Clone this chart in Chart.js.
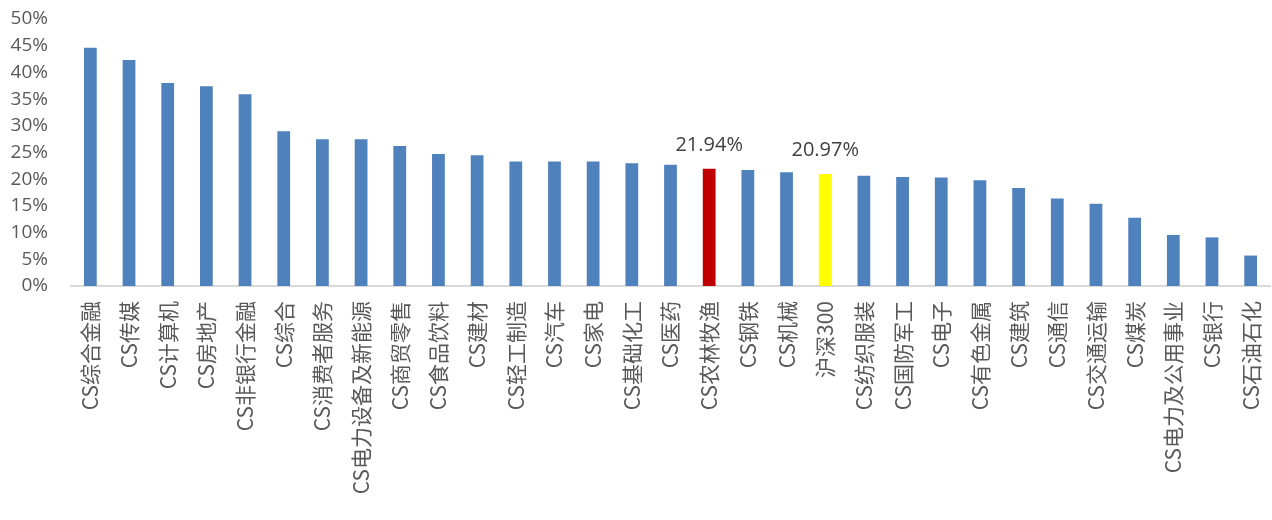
<!DOCTYPE html>
<html lang="zh-CN">
<head>
    <meta charset="UTF-8">
    <title>行业涨幅</title>
    <script src="https://cdn.jsdelivr.net/npm/chart.js"></script>
    <style>
        html, body {
            margin: 0;
            padding: 0;
            background: #ffffff;
        }
        #wrap {
            width: 1272px;
            height: 520px;
        }
    </style>
</head>
<body>
    <div id="wrap"><canvas id="barChart"></canvas></div>

    <script>
        const categories = ['CS综合金融', 'CS传媒', 'CS计算机', 'CS房地产', 'CS非银行金融', 'CS综合',
            'CS消费者服务', 'CS电力设备及新能源', 'CS商贸零售', 'CS食品饮料', 'CS建材', 'CS轻工制造',
            'CS汽车', 'CS家电', 'CS基础化工', 'CS医药', 'CS农林牧渔', 'CS钢铁', 'CS机械', '沪深300',
            'CS纺织服装', 'CS国防军工', 'CS电子', 'CS有色金属', 'CS建筑', 'CS通信', 'CS交通运输',
            'CS煤炭', 'CS电力及公用事业', 'CS银行', 'CS石油石化'];

        // 区间涨幅 (%)
        const values = [44.6, 42.3, 38.0, 37.4, 35.9, 29.0,
            27.5, 27.5, 26.2, 24.7, 24.5, 23.3,
            23.3, 23.3, 23.0, 22.7, 21.94, 21.7, 21.3, 20.97,
            20.66, 20.4, 20.3, 19.8, 18.35, 16.4, 15.4,
            12.8, 9.55, 9.1, 5.7];

        const yMax = 50;
        const yStep = 5;

        // highlighted bars, these also get a value label
        const highlight = { 'CS农林牧渔': '#C00000', '沪深300': '#FFFF00' };
        const baseColor = '#4F81BD';

        const valueLabels = {
            id: 'valueLabels',
            afterDatasetsDraw(chart) {
                const ctx = chart.ctx;
                const meta = chart.getDatasetMeta(0);
                ctx.save();
                ctx.font = '20px "Open Sans", "Noto Sans CJK SC", sans-serif';
                ctx.fillStyle = '#404040';
                ctx.textAlign = 'center';
                ctx.textBaseline = 'alphabetic';
                categories.forEach((c, i) => {
                    if (!highlight[c]) return;
                    const bar = meta.data[i];
                    ctx.fillText(values[i].toFixed(2) + '%', bar.x, bar.y - 18);
                });
                ctx.restore();
            }
        };

        new Chart(document.getElementById('barChart'), {
            type: 'bar',
            data: {
                labels: categories,
                datasets: [{
                    data: values,
                    backgroundColor: categories.map(c => highlight[c] || baseColor),
                    barPercentage: 0.33,
                    categoryPercentage: 1
                }]
            },
            options: {
                responsive: true,
                maintainAspectRatio: false,
                animation: false,
                layout: { padding: { top: 19, right: 2, left: 0, bottom: 0 } },
                plugins: {
                    legend: { display: false },
                    tooltip: { enabled: false }
                },
                scales: {
                    x: {
                        grid: { display: false, drawTicks: false },
                        border: { color: '#d9d9d9', width: 2 },
                        ticks: {
                            autoSkip: false,
                            minRotation: 90,
                            maxRotation: 90,
                            padding: 15,
                            color: '#595959',
                            font: { family: '"Noto Sans CJK SC", sans-serif', size: 21 }
                        },
                        afterFit: scale => {
                            scale.height = 234;
                            scale.paddingLeft = 0;
                            scale.paddingRight = 0;
                        }
                    },
                    y: {
                        min: 0,
                        max: yMax,
                        grid: { display: false, drawTicks: false },
                        border: { display: false },
                        ticks: {
                            stepSize: yStep,
                            autoSkip: false,
                            padding: 23,
                            color: '#595959',
                            font: { family: '"Open Sans", sans-serif', size: 19 },
                            callback: v => v + '%'
                        },
                        afterFit: scale => {
                            scale.width = 71;
                            scale.paddingTop = 0;
                            scale.paddingBottom = 0;
                        }
                    }
                }
            },
            plugins: [valueLabels]
        });
    </script>
</body>
</html>
